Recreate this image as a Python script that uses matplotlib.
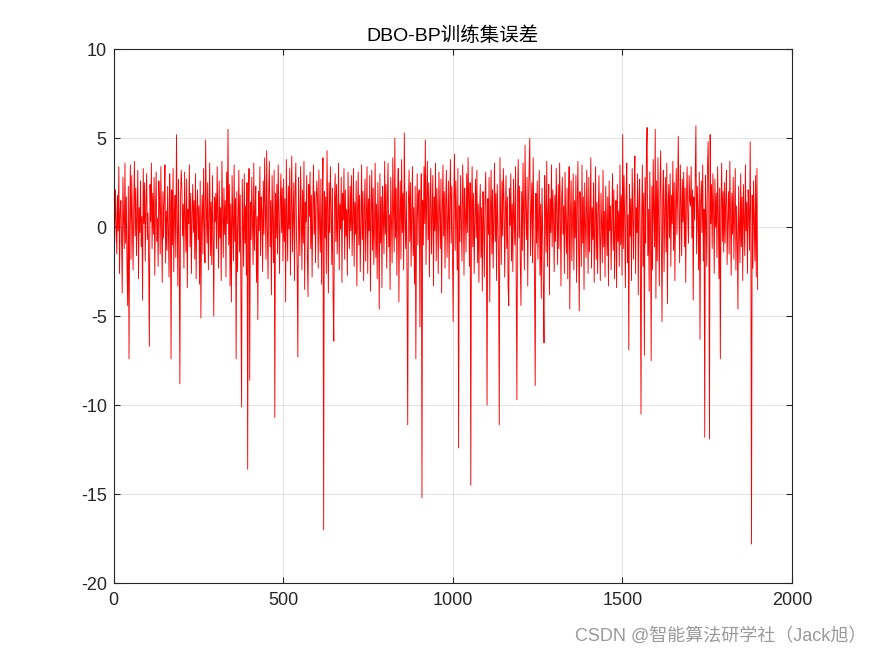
import numpy as np
import matplotlib
matplotlib.use("Agg")
import matplotlib.pyplot as plt

plt.rcParams['font.family'] = ['Liberation Sans', 'Noto Sans CJK SC', 'DejaVu Sans']
plt.rcParams['axes.unicode_minus'] = False

# Error values, read at every second sample (x = 1, 3, 5, ..., 1899), 19 blocks of 100 samples
seg00 = [1.2, -0.8, 2.1, 0.3, -1.5, 1.8, -0.2, 3.4, -2.6, 0.9, 1.5, -0.6, -3.7, 2.8, 0.4, -1.2, 3.6, -0.9, 1.7, -2.1, -4.4, 2.3, -7.4, 0.5, 3.5, -1.8, 2.9, 0.1, -2.4, 1.3, 3.7, -0.5, 2.2, -1.6, 0.8, 3.2, -2.9, 1.1, -0.3, 2.6, -1.1, 0.6, -4.1, 3.3, 0.2, 2.5, -1.9, 1.4, 3.0, -0.7]
seg01 = [0.8, -1.9, -6.7, 2.4, 0.3, 3.6, -1.2, 1.9, -0.4, 2.8, -2.7, 1.0, 3.1, -0.8, 0.5, -2.2, 2.6, 1.4, -1.5, 3.4, 0.2, -3.1, 2.0, -0.6, 1.7, 3.5, -2.0, 0.9, -1.3, 2.3, 0.0, -2.8, 3.0, 1.2, -7.4, 2.1, -1.0, 3.3, -2.5, 0.7, 1.8, -1.7, 5.2, 0.4, -3.3, 2.7, -0.9, -8.8, 1.6, 3.2]
seg02 = [2.2, -0.5, 1.3, -2.3, 3.1, 0.6, -1.4, 2.7, -3.4, 1.0, 0.2, 3.5, -1.1, 1.9, -2.6, 0.7, 2.4, -0.3, 1.5, -1.8, 3.0, -2.9, 0.9, 2.1, -0.7, 1.2, -3.2, 2.6, -5.1, 0.4, 1.8, -1.5, 3.3, 0.1, -2.0, 4.9, 1.1, -0.9, 2.5, -2.4, 0.6, 3.6, -1.6, 1.4, -2.1, 2.9, -0.2, -5.0, 1.7, 0.3]
seg03 = [1.9, -1.2, 3.4, 0.5, -2.3, 2.6, -0.6, 1.1, -3.0, 3.7, 0.8, -1.7, 2.2, -0.4, 1.5, -2.8, 3.1, 0.2, 5.5, -1.0, 2.4, -3.3, 1.3, -4.2, 2.9, 0.6, -1.9, 3.5, -0.8, 1.6, -7.4, 2.0, -2.5, 0.4, 3.2, -1.4, 1.8, -3.6, -10.1, 2.7, 0.1, -2.2, 3.0, -0.9, 1.2, -2.7, 2.5, -13.6, 0.7, 3.3]
seg04 = [-8.6, 1.4, -0.7, 2.8, 0.3, -2.1, 3.6, -1.3, 1.0, 2.3, -3.1, 0.6, -5.2, 2.0, -0.2, 3.4, -1.6, 1.7, 0.9, -2.5, 2.6, -0.4, 3.9, 1.2, -1.8, 4.3, 0.0, -2.9, 2.1, 3.7, -1.1, 1.5, -3.8, 2.9, 0.5, -2.0, 3.2, -10.7, 1.9, -0.6, 2.4, -1.5, 3.5, 0.8, -2.6, 1.3, 3.0, -0.3, 2.2, -1.9]
seg05 = [2.7, -0.8, 1.6, -4.2, 3.8, 0.4, -1.9, 2.3, -0.1, 3.3, -2.7, 1.1, 4.0, -1.4, 0.7, 2.5, -3.0, 1.9, 3.6, -0.5, -2.2, -7.3, 2.8, 0.2, -1.6, 3.4, 1.0, -2.4, 2.1, -0.9, 3.7, -3.5, 1.4, 0.3, 2.9, -1.7, -3.9, 2.4, 0.6, 3.1, -1.2, 1.8, -2.8, 0.9, 3.5, -0.4, 2.0, -2.0, 1.3, 2.6]
seg06 = [1.5, -2.3, 3.2, 0.1, -1.4, 2.7, -3.2, 1.2, 3.9, -17.0, 2.0, -0.6, 1.7, -2.6, 4.3, 0.8, -3.7, 2.5, -0.3, 3.4, 1.0, -2.1, 2.2, -4.0, -6.4, 1.6, 3.0, -0.8, 2.4, -1.5, 0.5, 3.6, -2.4, 1.3, -0.1, 2.8, -3.1, 1.9, 0.4, 3.3, -1.8, 2.1, -0.5, 1.0, -2.7, 3.1, 0.7, -1.2, 2.3, -0.2]
seg07 = [2.9, -1.6, 0.6, 3.3, -2.2, 1.4, -0.4, 2.6, -3.3, 0.9, 3.1, -1.0, 1.8, -2.5, 0.2, 3.5, -0.7, 2.0, -3.0, 1.1, 2.7, -1.9, 0.5, 3.4, -2.6, 1.6, -0.2, 2.9, -3.6, 0.8, 3.2, -1.3, 2.2, -2.1, 0.0, 3.6, -1.7, 1.3, -2.9, 2.5, 0.4, -4.6, 3.0, -0.9, 1.7, -3.4, 2.3, 0.6, -1.5, 3.7]
seg08 = [-0.4, 2.4, -2.3, 1.5, 3.6, -1.1, 0.7, -3.5, 2.8, 0.3, -2.0, 3.9, 1.0, -1.4, 5.0, -0.6, 2.2, -2.7, 1.2, 3.3, -4.2, 0.8, 2.6, -1.8, 3.8, -0.3, 1.9, -2.4, 5.3, 0.5, -1.2, 2.0, -3.0, -11.1, 1.4, 3.2, -0.8, 2.5, -2.2, 0.9, 3.4, -1.6, 1.1, -3.2, 2.3, -7.4, 0.2, 3.0, -1.0, 1.8]
seg09 = [2.1, -5.6, 0.8, 3.0, -15.2, 1.5, -1.0, 3.4, 0.2, 4.9, -2.1, 1.8, 3.7, -0.7, 2.5, -2.8, 1.2, 3.3, -1.5, 0.6, 2.9, -3.3, 1.7, -0.2, 3.6, -1.9, 2.2, 0.4, -2.6, 3.1, 1.0, -1.2, 2.7, -3.7, 0.9, 3.5, -0.5, 2.0, -2.3, 1.4, 3.2, -1.7, 0.3, 2.6, -2.9, 1.6, 3.8, -0.9, 2.3, -1.4]
seg10 = [-5.3, 1.8, 4.1, -1.3, 2.6, 0.5, -2.4, 3.3, -12.4, 1.2, -0.8, 2.9, 0.1, -1.9, 3.5, 1.6, -2.7, 2.2, 0.7, -1.4, 3.0, -0.3, 3.9, 1.4, -2.2, 2.5, -14.5, 0.9, 3.4, -1.1, 1.9, -2.6, 0.4, 2.7, -0.6, 3.2, -2.0, 1.3, -3.1, 0.8, 2.4, -1.7, 1.1, -3.6, 2.0, 0.2, -2.8, 1.5, 3.1, -0.9]
seg11 = [-10.0, 1.6, -0.4, 2.8, -4.2, 0.9, 3.2, -1.5, 2.1, -2.3, 0.6, 3.6, -0.8, 1.9, -3.0, 2.4, 0.3, -1.7, -11.1, 3.9, 1.0, -2.1, 2.6, -0.5, 3.3, 1.4, -2.8, 0.7, 2.9, -1.2, 1.7, -3.4, -4.4, 2.2, 0.1, 3.0, -1.9, 1.3, -2.5, 2.7, 0.5, -1.0, 3.4, -3.2, -9.7, 1.8, 3.8, -0.6, 2.3, -2.0]
seg12 = [-4.4, 2.0, -1.3, 3.6, 0.4, -2.4, 4.6, 1.1, -0.7, 2.8, -3.3, 1.5, 3.4, 5.0, -1.6, 0.8, 2.5, -2.0, 3.9, 0.2, -3.0, -8.9, 1.9, -0.9, 2.6, -1.8, 0.5, 3.2, -2.7, 1.3, -4.0, 2.2, 0.0, -3.6, -6.5, 2.9, 1.0, -1.4, 3.7, -2.2, 0.7, 2.4, -3.8, 1.6, -0.3, 3.5, -1.1, 2.1, 0.6, -2.5]
seg13 = [1.8, -0.8, 3.3, 0.5, -2.1, 2.4, -1.2, 3.6, 0.9, -3.3, 1.6, 2.8, -0.4, 1.2, -2.6, 3.1, 0.2, -1.5, 2.2, -2.9, 1.0, 3.4, -4.6, 0.7, 2.6, -1.9, 0.3, 3.0, -2.4, 1.5, -0.6, 2.9, -3.1, 1.3, 3.7, -1.0, -4.7, 2.0, 0.4, -2.2, 3.5, -0.9, 1.7, -3.5, 2.5, 0.1, -1.7, 3.2, 0.8, -2.6]
seg14 = [2.8, -1.4, 0.6, 3.9, -2.3, 1.1, -0.7, 2.5, -3.1, 0.3, 3.4, -1.8, 1.4, -2.6, 0.8, 2.9, -0.4, -3.0, 1.9, 0.2, -2.0, 3.2, -1.1, 0.9, -2.8, 2.3, 0.4, -1.6, 1.7, -3.3, 2.6, -0.2, 1.2, -2.4, 0.6, 3.0, -1.3, 2.1, -2.9, 0.0, 1.5, -3.4, 2.4, -0.8, 0.9, -2.2, 3.5, -1.0, 1.8, -2.7]
seg15 = [5.2, -1.2, 2.9, 0.4, -3.4, 1.8, 3.6, -2.0, 0.7, -6.9, 2.4, -0.5, 1.6, -3.0, 3.3, 0.9, -1.8, 2.2, 4.0, -2.6, 1.1, -0.3, 3.0, -3.8, 1.5, 2.7, -1.4, -10.5, 0.6, 3.5, -2.2, 1.9, -7.2, 2.8, -0.9, 4.2, 5.6, -1.6, 1.0, -3.6, 3.1, 0.3, -7.5, 2.3, -2.4, 3.8, 0.8, -1.1, 5.5, -4.0]
seg16 = [2.6, -1.9, 3.9, 0.5, -3.3, 2.1, 4.3, -0.8, -5.3, 1.7, 3.2, -2.5, 0.9, 2.8, -1.4, 3.6, -4.3, 1.3, 2.4, -0.6, 3.0, -2.2, 1.8, 0.2, 3.7, -1.3, 2.5, -3.0, 1.1, 3.3, -0.4, 2.0, 5.1, 0.8, -2.0, 3.5, 1.4, -1.6, 2.7, 0.3, 3.1, -1.1, 2.2, -3.1, 1.6, 3.4, 0.6, -0.9, 2.9, 1.5]
seg17 = [1.2, 3.4, -0.6, 2.1, -4.1, 1.7, 0.4, 2.8, 5.7, -1.5, 2.3, 0.9, -2.4, 3.1, -6.3, 1.4, 2.6, -0.3, 3.5, -1.9, 1.0, -11.8, 2.9, 0.6, -2.2, 3.3, 4.8, 1.5, -11.9, 5.2, 0.2, 2.4, -1.2, 3.0, 1.1, -2.6, 2.7, 0.0, 1.9, -1.7, 3.4, 0.7, -2.9, 2.2, -7.4, 1.3, 3.6, -0.8, 2.0, -1.4]
seg18 = [2.5, -0.9, 1.6, 3.2, -2.1, 0.4, 2.0, -1.5, 3.7, 0.8, -2.7, 1.9, -0.4, 2.8, -1.8, 0.6, 3.3, -2.4, 1.2, -0.7, -4.6, 2.3, 0.1, -2.0, 3.0, -1.1, 1.7, -3.0, 2.4, 0.5, -1.6, 3.5, -0.2, 1.4, -2.6, 2.1, 0.9, -1.3, 4.8, -0.5, -17.8, 1.8, -2.3, 2.6, 0.3, -1.9, 2.9, -2.8, 3.3, -3.5]

segments = [seg00, seg01, seg02, seg03, seg04, seg05, seg06, seg07, seg08, seg09,
            seg10, seg11, seg12, seg13, seg14, seg15, seg16, seg17, seg18]
errors = np.concatenate([np.array(s, dtype=float) for s in segments])
sample_index = np.arange(1, 2 * len(errors), 2)

title_text = "DBO-BP训练集误差"
watermark = "CSDN @智能算法研学社（Jack旭）"
x_ticks = [0, 500, 1000, 1500, 2000]
y_ticks = [-20, -15, -10, -5, 0, 5, 10]

fig = plt.figure(figsize=(8.75, 6.56), dpi=100)
ax = fig.add_axes([0.13, 0.111, 0.775, 0.814])
ax.plot(sample_index, errors, color='red', linewidth=0.65)

ax.set_xlim(0, 2000)
ax.set_ylim(-20, 10)
ax.set_xticks(x_ticks)
ax.set_yticks(y_ticks)
ax.grid(True, color='#000000', alpha=0.13, linewidth=0.6)
ax.set_axisbelow(True)
ax.tick_params(direction='in', length=4, width=0.8, colors='#262626', labelsize=13,
               top=True, right=True, labeltop=False, labelright=False)
ax.tick_params(axis='x', pad=6)
ax.tick_params(axis='y', pad=5)
for sp in ax.spines.values():
    sp.set_color('#262626')
    sp.set_linewidth(0.8)

ax.set_title(title_text, fontsize=14, color='black', pad=6,
             family=['Liberation Sans', 'Noto Sans CJK SC'])

fig.text(0.99, 0.03, watermark, ha='right', va='center', fontsize=13, color='#9a9a9a',
         family=['Liberation Sans', 'Noto Sans CJK SC'])

fig.savefig('out.png', dpi=100, facecolor='white')
